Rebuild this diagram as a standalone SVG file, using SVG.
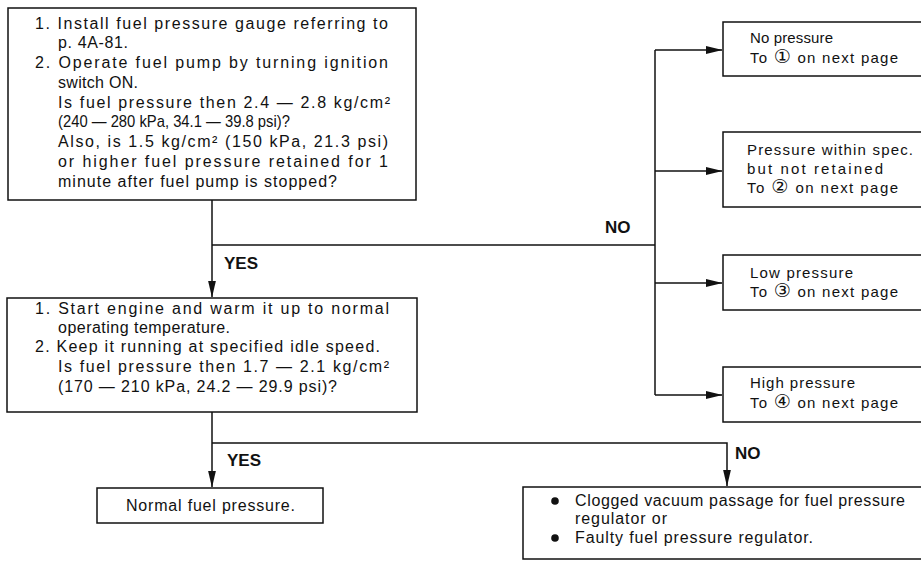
<svg xmlns="http://www.w3.org/2000/svg" width="921" height="561" viewBox="0 0 921 561">
<style>
  .box { fill: #ffffff; stroke: #111111; stroke-width: 1.5; }
  .t { font-family: "Liberation Sans", Arial, "DejaVu Sans", "Noto Sans CJK JP", sans-serif; font-size: 16px; fill: #111111; }
  .r { font-size: 15px; }
  .b { font-family: "Liberation Sans", Arial, sans-serif; font-size: 17px; font-weight: bold; fill: #111111; }
  .c { font-family: "DejaVu Sans", "Noto Sans CJK JP", sans-serif; font-size: 19px; }
  .ln { fill: none; stroke: #111111; stroke-width: 1.5; }
</style>
<defs>
  <marker id="arr" markerWidth="17" markerHeight="8" refX="16.5" refY="4" orient="auto" markerUnits="userSpaceOnUse">
    <path d="M0,0 L17,4 L0,8 Z" fill="#111111"/>
  </marker>
</defs>
<rect x="0" y="0" width="921" height="561" fill="#ffffff"/>

<g id="connectors">
  <path class="ln" d="M212,200 V297" marker-end="url(#arr)"/>
  <path class="ln" d="M212,245 H655"/>
  <path class="ln" d="M655,50 V395"/>
  <path class="ln" d="M655,50 H722" marker-end="url(#arr)"/>
  <path class="ln" d="M655,171 H722" marker-end="url(#arr)"/>
  <path class="ln" d="M655,283 H722" marker-end="url(#arr)"/>
  <path class="ln" d="M655,395 H722" marker-end="url(#arr)"/>
  <path class="ln" d="M212,412 V487" marker-end="url(#arr)"/>
  <path class="ln" d="M212,443 H727 V486" marker-end="url(#arr)"/>
  <text class="b" x="224" y="269">YES</text>
  <text class="b" x="605" y="233">NO</text>
  <text class="b" x="227" y="466">YES</text>
  <text class="b" x="735" y="459">NO</text>
</g>

<g id="check-fuel-pump">
  <rect class="box" x="8" y="8" width="408" height="192"/>
  <text class="t" x="35" y="29" textLength="353" lengthAdjust="spacing">1. Install fuel pressure gauge referring to</text>
  <text class="t" x="58" y="48" textLength="70" lengthAdjust="spacing">p. 4A-81.</text>
  <text class="t" x="35" y="68" textLength="353" lengthAdjust="spacing">2. Operate fuel pump by turning ignition</text>
  <text class="t" x="58" y="88" textLength="80" lengthAdjust="spacing">switch ON.</text>
  <text class="t" x="58" y="108" textLength="332" lengthAdjust="spacing">Is fuel pressure then 2.4 — 2.8 kg/cm²</text>
  <text class="t" x="0" y="0" transform="translate(58,127) scale(0.925,1)">(240 — 280 kPa, 34.1 — 39.8 psi)?</text>
  <text class="t" x="58" y="147" textLength="330" lengthAdjust="spacing">Also, is 1.5 kg/cm² (150 kPa, 21.3 psi)</text>
  <text class="t" x="58" y="167" textLength="330" lengthAdjust="spacing">or higher fuel pressure retained for 1</text>
  <text class="t" x="58" y="187" textLength="279" lengthAdjust="spacing">minute after fuel pump is stopped?</text>
</g>

<g id="check-idle">
  <rect class="box" x="7" y="298" width="410" height="114"/>
  <text class="t" x="35" y="314" textLength="354" lengthAdjust="spacing">1. Start engine and warm it up to normal</text>
  <text class="t" x="58" y="333" textLength="172" lengthAdjust="spacing">operating temperature.</text>
  <text class="t" x="35" y="352" textLength="345" lengthAdjust="spacing">2. Keep it running at specified idle speed.</text>
  <text class="t" x="58" y="372" textLength="331" lengthAdjust="spacing">Is fuel pressure then 1.7 — 2.1 kg/cm²</text>
  <text class="t" x="58" y="392" textLength="279" lengthAdjust="spacing">(170 — 210 kPa, 24.2 — 29.9 psi)?</text>
</g>

<g id="no-pressure">
  <rect class="box" x="723" y="22" width="205" height="54"/>
  <text class="t r" x="750" y="43" textLength="83" lengthAdjust="spacing">No pressure</text>
  <text class="t r" x="750" y="63" textLength="148" lengthAdjust="spacing">To <tspan class="c">①</tspan> on next page</text>
</g>

<g id="not-retained">
  <rect class="box" x="723" y="132" width="205" height="75"/>
  <text class="t r" x="747" y="155" textLength="166" lengthAdjust="spacing">Pressure within spec.</text>
  <text class="t r" x="747" y="174" textLength="136" lengthAdjust="spacing">but not retained</text>
  <text class="t r" x="747" y="193" textLength="151" lengthAdjust="spacing">To <tspan class="c">②</tspan> on next page</text>
</g>

<g id="low-pressure">
  <rect class="box" x="723" y="255" width="205" height="55"/>
  <text class="t r" x="750" y="278" textLength="103" lengthAdjust="spacing">Low pressure</text>
  <text class="t r" x="750" y="297" textLength="148" lengthAdjust="spacing">To <tspan class="c">③</tspan> on next page</text>
</g>

<g id="high-pressure">
  <rect class="box" x="723" y="367" width="205" height="55"/>
  <text class="t r" x="750" y="388" textLength="105" lengthAdjust="spacing">High pressure</text>
  <text class="t r" x="750" y="408" textLength="148" lengthAdjust="spacing">To <tspan class="c">④</tspan> on next page</text>
</g>

<g id="normal">
  <rect class="box" x="97" y="488" width="226" height="35"/>
  <text class="t" x="126" y="511" textLength="169" lengthAdjust="spacing">Normal fuel pressure.</text>
</g>

<g id="regulator">
  <rect class="box" x="523" y="487" width="405" height="72"/>
  <circle cx="555" cy="501" r="3.8" fill="#111111"/>
  <circle cx="555" cy="538" r="3.8" fill="#111111"/>
  <text class="t" x="575" y="506" textLength="330" lengthAdjust="spacing">Clogged vacuum passage for fuel pressure</text>
  <text class="t" x="575" y="524" textLength="92" lengthAdjust="spacing">regulator or</text>
  <text class="t" x="575" y="543" textLength="238" lengthAdjust="spacing">Faulty fuel pressure regulator.</text>
</g>
</svg>
